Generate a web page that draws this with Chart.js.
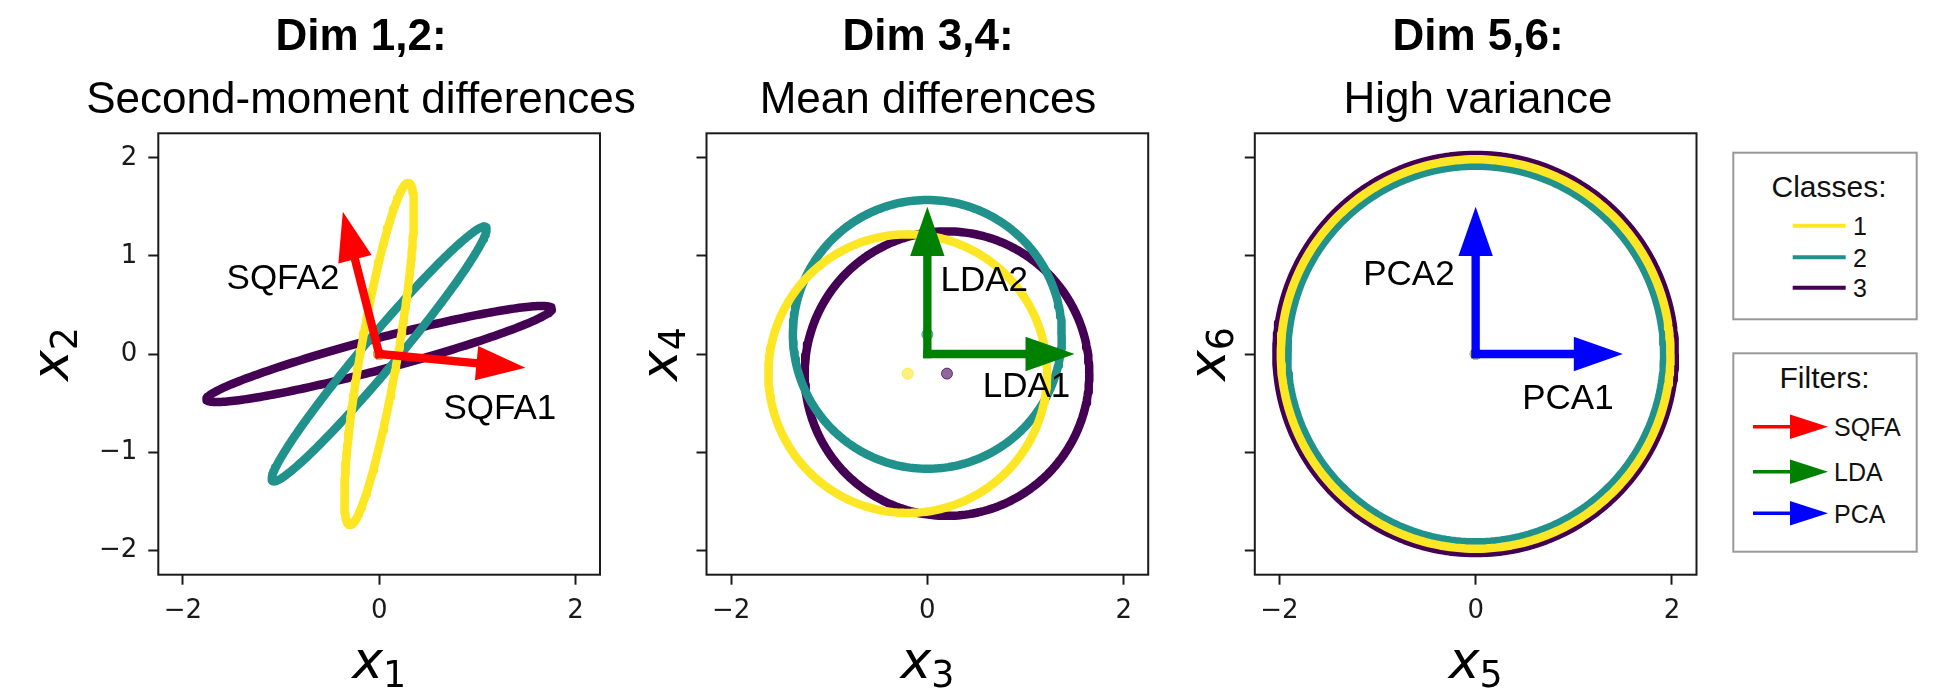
<!DOCTYPE html>
<html>
<head>
<meta charset="utf-8">
<title>Dim 1,2 / 3,4 / 5,6 – class contours and filters</title>
<script src="https://cdn.jsdelivr.net/npm/chart.js@4.4.1/dist/chart.umd.min.js"></script>
<style>
  html, body { margin: 0; padding: 0; background: #fff; }
  #figure { position: relative; width: 1947px; height: 689px; overflow: hidden; background: #fff; }
  #figure canvas { position: absolute; top: 0; }
  #legends { position: absolute; left: 0; top: 0; pointer-events: none; }
</style>
</head>
<body>
<div id="figure">
  <canvas id="dim12" width="722" height="689" style="left:0px"></canvas>
  <canvas id="dim34" width="616" height="689" style="left:620px"></canvas>
  <canvas id="dim56" width="616" height="689" style="left:1170px"></canvas>
  <svg id="legends" width="1947" height="689"></svg>
</div>

<script>
// ---------- Data ----------
const CLASS_LABELS = ["1", "2", "3"];
const CLASS_COLORS = ["#fde725", "#21918c", "#440154"];

// class contours: centre (class mean), [semi-axis a, semi-axis b], rotation of a in degrees
const DIM12_MEANS  = [[0, 0], [0, 0], [0, 0]];
const DIM12_AXES   = [[1.77, 0.19], [1.69, 0.17], [1.82, 0.16]];
const DIM12_ANGLES = [80.2, 50, 14.8];

const DIM34_MEANS  = [[-0.2, -0.2], [0, 0.2], [0.2, -0.2]];
const DIM34_AXES   = [[1.42, 1.42], [1.37, 1.37], [1.45, 1.45]];
const DIM34_ANGLES = [0, 0, 0];

const DIM56_MEANS  = [[0, 0], [0, 0], [0, 0]];
const DIM56_AXES   = [[1.985, 1.985], [1.92, 1.92], [2.03, 2.03]];
const DIM56_ANGLES = [0, 0, 0];

// filters: arrow tips (from the origin) and label centres
const FILTER_NAMES  = ["SQFA", "LDA", "PCA"];
const FILTER_COLORS = ["#ff0000", "#008000", "#0000ff"];
const SQFA_TIPS = [[1.49, -0.14], [-0.37, 1.45]];
const LDA_TIPS  = [[1.5, 0], [0, 1.5]];
const PCA_TIPS  = [[1.5, 0], [0, 1.5]];
const SQFA_LABELS_AT = [[1.23, -0.56], [-0.98, 0.76]];
const LDA_LABELS_AT  = [[1.01, -0.34], [0.58, 0.74]];
const PCA_LABELS_AT  = [[0.94, -0.46], [-0.68, 0.80]];

const X_TICKS = [-2, 0, 2];
const Y_TICKS = [-2, -1, 0, 1, 2];
const AXIS_MIN = -2.25, AXIS_MAX = 2.25;

// ---------- Layout / style ----------
const SANS = "'Liberation Sans', Arial, sans-serif";
const MATH = "'DejaVu Sans'";
const FIG_H = 689, PLOT_TOP = 133.3, PLOT_BOTTOM = 574.7, PLOT_W = 441.7;
const X_LABEL_BASELINE = 678.3;
const ARROW = { width: 0.085, headWidth: 0.35, headLength: 0.5 };   // in data units
const INK = "#1a1a1a";

function alpha(hex, a) {
  const n = parseInt(hex.slice(1), 16);
  return `rgba(${n >> 16},${(n >> 8) & 255},${n & 255},${a})`;
}

// points along a (rotated) ellipse outline
function contour([cx, cy], [a, b], deg) {
  const r = deg * Math.PI / 180, pts = [];
  for (let i = 0; i <= 240; i++) {
    const t = i / 240 * 2 * Math.PI;
    const u = a * Math.cos(t), v = b * Math.sin(t);
    pts.push({ x: cx + u * Math.cos(r) - v * Math.sin(r), y: cy + u * Math.sin(r) + v * Math.cos(r) });
  }
  return pts;
}

function classDatasets(means, axes, angles) {
  const rings = CLASS_LABELS.map((label, k) => ({
    label: "Class " + label,
    data: contour(means[k], axes[k], angles[k]),
    showLine: true, fill: false, tension: 0,
    pointRadius: 0, pointHitRadius: 0,
    borderColor: CLASS_COLORS[k], borderWidth: 8.5, borderJoinStyle: "round"
  }));
  const dots = CLASS_LABELS.map((label, k) => ({
    label: "Mean " + label,
    data: [{ x: means[k][0], y: means[k][1] }],
    pointRadius: 5.5, pointBorderWidth: 1,
    backgroundColor: alpha(CLASS_COLORS[k], 0.6),
    borderColor: alpha(CLASS_COLORS[k], 0.75)
  }));
  return [...rings, ...dots];
}

function filterDatasets(f, tips, labelsAt) {
  return tips.map((tip, k) => ({
    label: FILTER_NAMES[f] + (k + 1),
    data: [{ x: 0, y: 0 }, { x: tip[0], y: tip[1] }],
    showLine: false, pointRadius: 0, pointHitRadius: 0,
    borderColor: FILTER_COLORS[f],
    arrow: true, labelAt: labelsAt[k]
  }));
}

// ---------- Plugins ----------
const filterArrows = {
  id: "filterArrows",
  afterDatasetsDraw(chart) {
    const { ctx, scales: { x, y } } = chart;
    const unit = Math.abs(x.getPixelForValue(1) - x.getPixelForValue(0));
    const arrows = chart.data.datasets.map((ds, i) => [ds, i]).filter(([ds]) => ds.arrow);

    arrows.forEach(([ds, i]) => {
      const [p0, p1] = chart.getDatasetMeta(i).data;
      const dx = p1.x - p0.x, dy = p1.y - p0.y, len = Math.hypot(dx, dy);
      const ux = dx / len, uy = dy / len;
      const hl = ARROW.headLength * unit, hw = ARROW.headWidth * unit / 2;
      const bx = p1.x - ux * hl, by = p1.y - uy * hl;
      ctx.save();
      ctx.strokeStyle = ctx.fillStyle = ds.borderColor;
      ctx.lineWidth = ARROW.width * unit;
      ctx.lineCap = "square";
      ctx.beginPath(); ctx.moveTo(p0.x, p0.y); ctx.lineTo(bx, by); ctx.stroke();
      ctx.beginPath();
      ctx.moveTo(p1.x, p1.y);
      ctx.lineTo(bx - uy * hw, by + ux * hw);
      ctx.lineTo(bx + uy * hw, by - ux * hw);
      ctx.closePath(); ctx.fill();
      ctx.restore();
    });

    // arrow names on top
    ctx.save();
    ctx.font = `35px ${SANS}`;
    ctx.fillStyle = "#000";
    ctx.textAlign = "center";
    ctx.textBaseline = "middle";
    arrows.forEach(([ds]) => {
      ctx.fillText(ds.label, x.getPixelForValue(ds.labelAt[0]), y.getPixelForValue(ds.labelAt[1]));
    });
    ctx.restore();
  }
};

const axesFrame = {
  id: "axesFrame",
  afterDraw(chart) {
    const { ctx, chartArea: { left, top, right, bottom } } = chart;
    ctx.save();
    ctx.strokeStyle = INK;
    ctx.lineWidth = 2;
    ctx.strokeRect(left, top, right - left, bottom - top);
    ctx.restore();
  }
};

// italic symbol with an upright subscript, like matplotlib's $x_1$
function mathLabel(ctx, [main, sub], px, py, rotation) {
  ctx.save();
  ctx.translate(px, py);
  ctx.rotate(rotation);
  ctx.fillStyle = "#000";
  ctx.textAlign = "left";
  ctx.textBaseline = "alphabetic";
  ctx.font = `italic 52px ${MATH}`;
  const wMain = ctx.measureText(main).width;
  ctx.font = `36.4px ${MATH}`;
  const wSub = ctx.measureText(sub).width;
  const x0 = -(wMain + wSub) / 2;
  ctx.font = `italic 52px ${MATH}`;
  ctx.fillText(main, x0, 0);
  ctx.font = `36.4px ${MATH}`;
  ctx.fillText(sub, x0 + wMain, 8.4);
  ctx.restore();
}

const axisLabels = {
  id: "axisLabels",
  afterDraw(chart, _args, opts) {
    const { ctx, chartArea: { left, right, top, bottom } } = chart;
    mathLabel(ctx, opts.x, (left + right) / 2, opts.xBaseline, 0);
    mathLabel(ctx, opts.y, opts.yBaseline, (top + bottom) / 2, -Math.PI / 2);
  }
};

// ---------- Panels ----------
const minus = v => (v < 0 ? "\u2212" + Math.abs(v) : String(v));

const PANELS = [
  { id: "dim12", title: "Dim 1,2:", subtitle: "Second-moment differences",
    xLabel: ["x", "1"], yLabel: ["x", "2"], yTickLabels: true,
    canvasLeft: 0, canvasWidth: 722, plotLeft: 158.3, yLabelBaseline: 68.3,
    datasets: () => [...classDatasets(DIM12_MEANS, DIM12_AXES, DIM12_ANGLES), ...filterDatasets(0, SQFA_TIPS, SQFA_LABELS_AT)] },
  { id: "dim34", title: "Dim 3,4:", subtitle: "Mean differences",
    xLabel: ["x", "3"], yLabel: ["x", "4"], yTickLabels: false,
    canvasLeft: 620, canvasWidth: 616, plotLeft: 706.5, yLabelBaseline: 676.5,
    datasets: () => [...classDatasets(DIM34_MEANS, DIM34_AXES, DIM34_ANGLES), ...filterDatasets(1, LDA_TIPS, LDA_LABELS_AT)] },
  { id: "dim56", title: "Dim 5,6:", subtitle: "High variance",
    xLabel: ["x", "5"], yLabel: ["x", "6"], yTickLabels: false,
    canvasLeft: 1170, canvasWidth: 616, plotLeft: 1254.8, yLabelBaseline: 1225,
    datasets: () => [...classDatasets(DIM56_MEANS, DIM56_AXES, DIM56_ANGLES), ...filterDatasets(2, PCA_TIPS, PCA_LABELS_AT)] }
];

const tickFont = { family: MATH, size: 26 };

function renderPanel(p) {
  const leftWidth = p.plotLeft - p.canvasLeft;
  const rightWidth = p.canvasLeft + p.canvasWidth - (p.plotLeft + PLOT_W);

  new Chart(document.getElementById(p.id), {
    type: "scatter",
    data: { datasets: p.datasets() },
    options: {
      responsive: false,
      animation: false,
      events: [],
      layout: { padding: 0 },
      plugins: {
        legend: { display: false },
        tooltip: { enabled: false },
        title: {
          display: true, text: p.title, color: "#000",
          font: { family: SANS, size: 44, weight: "bold", lineHeight: 1 },
          padding: { top: 16.1, bottom: 0 }
        },
        subtitle: {
          display: true, text: p.subtitle, color: "#000",
          font: { family: SANS, size: 44, weight: "normal", lineHeight: 1 },
          padding: { top: 18.7, bottom: PLOT_TOP - 16.1 - 44 - 18.7 - 44 }
        },
        axisLabels: {
          x: p.xLabel, y: p.yLabel,
          xBaseline: X_LABEL_BASELINE, yBaseline: p.yLabelBaseline - p.canvasLeft
        }
      },
      scales: {
        x: {
          type: "linear", min: AXIS_MIN, max: AXIS_MAX, bounds: "data",
          afterBuildTicks: s => { s.ticks = X_TICKS.map(value => ({ value })); },
          ticks: { font: tickFont, color: INK, padding: 10.7, maxRotation: 0, callback: minus },
          grid: { drawOnChartArea: false, tickLength: 10, tickWidth: 2, tickColor: INK },
          border: { display: false },
          afterFit: s => { s.height = FIG_H - PLOT_BOTTOM; }
        },
        y: {
          type: "linear", min: AXIS_MIN, max: AXIS_MAX, bounds: "data",
          afterBuildTicks: s => { s.ticks = Y_TICKS.map(value => ({ value })); },
          ticks: { font: tickFont, color: INK, padding: 11, callback: v => (p.yTickLabels ? minus(v) : "") },
          grid: { drawOnChartArea: false, tickLength: 10, tickWidth: 2, tickColor: INK },
          border: { display: false },
          afterFit: s => { s.width = leftWidth; }
        },
        // empty right-hand box so the titles centre where the reference has them
        spacer: {
          position: "right", display: true,
          ticks: { display: false }, grid: { display: false }, border: { display: false },
          afterFit: s => { s.width = rightWidth; }
        }
      }
    },
    plugins: [filterArrows, axesFrame, axisLabels]
  });
}

// ---------- Legends (classes + filters) ----------
function renderLegends() {
  const svg = document.getElementById("legends");
  const box = (x, y, w, h) => `<rect x="${x}" y="${y}" width="${w}" height="${h}" fill="#fff" stroke="#999" stroke-width="2"/>`;
  const text = (x, y, s, size, anchor = "start") =>
    `<text x="${x}" y="${y}" font-family="${SANS.replace(/'/g, "")}" font-size="${size}" fill="#111" text-anchor="${anchor}">${s}</text>`;

  const classRows = [225.7, 257.3, 287.7];
  const filterRows = [426.7, 471.7, 513.3];

  svg.innerHTML = [
    box(1733.3, 152.7, 183.4, 166.6),
    text(1829, 196.7, "Classes:", 30, "middle"),
    ...CLASS_LABELS.map((label, k) => `
      <line x1="1792.7" x2="1845.7" y1="${classRows[k]}" y2="${classRows[k]}" stroke="${CLASS_COLORS[k]}" stroke-width="4"/>
      ${text(1853, classRows[k] + 9.5, label, 25)}`),
    box(1733.3, 353.3, 183.4, 198.4),
    text(1824.5, 388.3, "Filters:", 30, "middle"),
    ...FILTER_NAMES.map((name, k) => {
      const y = filterRows[k];
      return `
      <line x1="1753" x2="1791" y1="${y}" y2="${y}" stroke="${FILTER_COLORS[k]}" stroke-width="3.5"/>
      <polygon points="1790,${y - 12.3} 1828,${y} 1790,${y + 12.3}" fill="${FILTER_COLORS[k]}"/>
      ${text(1834, y + 9.5, name, 25)}`;
    })
  ].join("");
}

// ---------- Init ----------
(async function init() {
  try {
    await Promise.all([
      document.fonts.load(`bold 44px ${SANS}`),
      document.fonts.load(`44px ${SANS}`),
      document.fonts.load(`26px ${MATH}`),
      document.fonts.load(`italic 52px ${MATH}`)
    ]);
  } catch (e) { /* fall back to whatever is available */ }
  PANELS.forEach(renderPanel);
  renderLegends();
})();
</script>
</body>
</html>
